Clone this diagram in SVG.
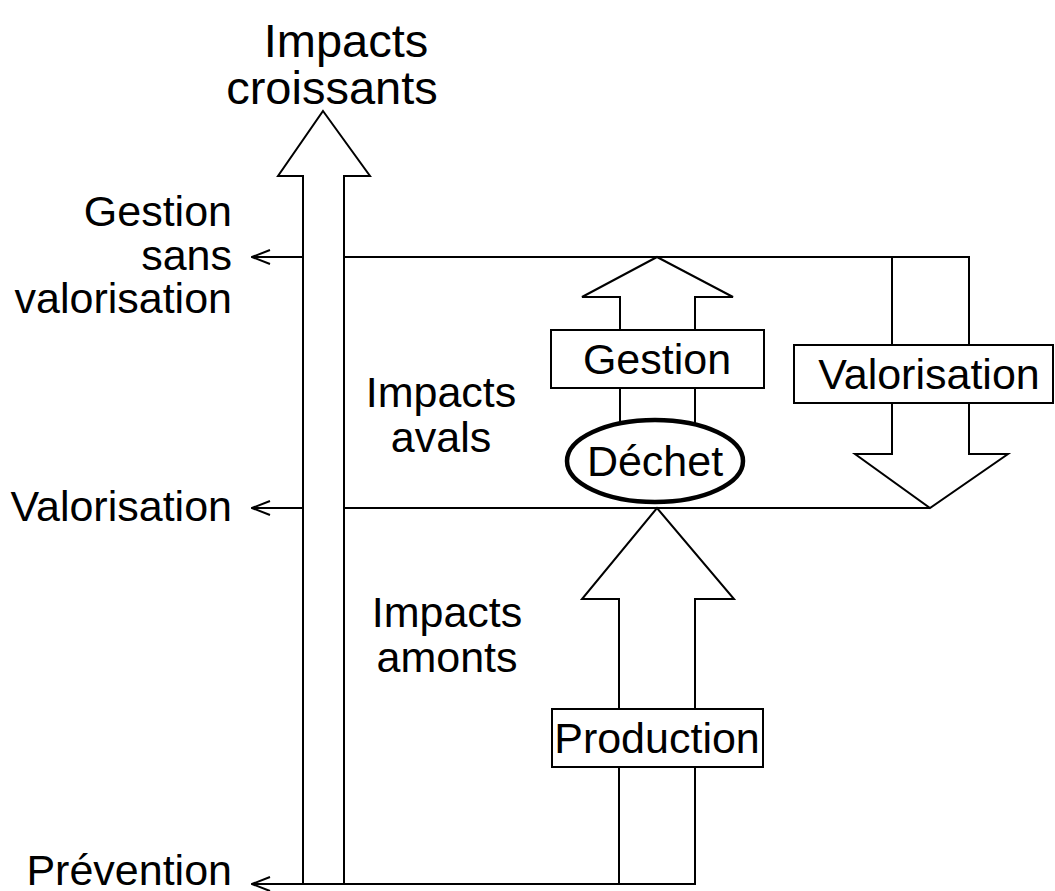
<svg xmlns="http://www.w3.org/2000/svg" width="1055" height="891" viewBox="0 0 1055 891">
<style>
.ln{fill:none;stroke:#000;stroke-width:2}
.sh{fill:#fff;stroke:#000;stroke-width:2;stroke-linejoin:miter}
text{font-family:"Liberation Sans",Arial,sans-serif;font-size:43px;fill:#000}
.c{text-anchor:middle}
.r{text-anchor:end}
.t{font-size:47px}
</style>
<defs>
<marker id="chev" viewBox="0 0 20 20" refX="19" refY="10" markerWidth="20" markerHeight="20" markerUnits="userSpaceOnUse" orient="auto">
<path d="M1,3 L19,10 L1,17" fill="none" stroke="#000" stroke-width="2"/>
</marker>
</defs>
<g id="connectors">
<line class="ln" x1="969" y1="257" x2="252" y2="257" marker-end="url(#chev)"/>
<line class="ln" x1="930" y1="508" x2="252" y2="508" marker-end="url(#chev)"/>
<line class="ln" x1="695" y1="884" x2="252" y2="884" marker-end="url(#chev)"/>
</g>
<g id="axis">
<polygon class="sh" points="323,111 370,176 344,176 344,884 303,884 303,176 278,176"/>
<text class="c t" x="346" y="57">Impacts</text>
<text class="c t" x="332" y="104">croissants</text>
</g>
<g id="label-gsv">
<text class="r" x="232" y="226">Gestion</text>
<text class="r" x="232" y="270">sans</text>
<text class="r" x="232" y="313">valorisation</text>
</g>
<g id="label-valorisation">
<text class="r" x="232" y="521">Valorisation</text>
</g>
<g id="label-prevention">
<text class="r" x="232" y="885">Prévention</text>
</g>
<g id="label-avals">
<text class="c" x="441" y="407">Impacts</text>
<text class="c" x="441" y="452">avals</text>
</g>
<g id="label-amonts">
<text class="c" x="447" y="627">Impacts</text>
<text class="c" x="447" y="672">amonts</text>
</g>
<g id="gestion">
<polygon class="sh" points="657,257 733,297 695,297 695,440 620,440 620,297 582,297"/>
<rect class="sh" x="551" y="330" width="213" height="58"/>
<text class="c" x="657" y="374">Gestion</text>
</g>
<g id="dechet">
<ellipse cx="655" cy="461" rx="88" ry="41" fill="#fff" stroke="#000" stroke-width="4.5"/>
<text class="c" x="655" y="476">Déchet</text>
</g>
<g id="valorisation">
<polygon class="sh" points="892,257 969,257 969,454 1008,454 930,508 855,454 892,454"/>
<rect class="sh" x="794" y="345" width="259" height="58"/>
<text class="c" x="929" y="389">Valorisation</text>
</g>
<g id="production">
<polygon class="sh" points="657,508 734,599 695,599 695,884 619,884 619,599 582,599"/>
<rect class="sh" x="552" y="709" width="211" height="58"/>
<text class="c" x="657" y="753">Production</text>
</g>
</svg>
